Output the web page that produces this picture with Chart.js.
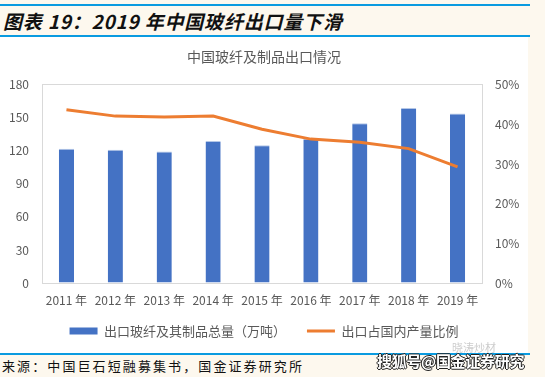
<!DOCTYPE html>
<html>
<head>
<meta charset="utf-8">
<script src="https://cdn.jsdelivr.net/npm/chart.js@4"></script>
<style>
  body { margin: 0; width: 545px; height: 377px; background: #fdf8ee; position: relative; overflow: hidden;
         font-family: "Noto Sans CJK SC", "Noto Sans", sans-serif; }
  .rule { position: absolute; left: 0; width: 530px; background: #0a9be0; }
  #head { position: absolute; left: 3px; top: 7px; font-size: 19px; font-weight: bold; font-style: italic; color: #111; letter-spacing: 0.8px; }
  #box { position: absolute; left: 0; top: 37px; width: 528px; height: 316px; background: #fff; }
  #src { position: absolute; left: 2px; top: 356px; font-size: 13px; letter-spacing: 2.1px; color: #111; }
  #wm { position: absolute; left: 377px; top: 350px; font-size: 15px; font-weight: bold; color: #fff; letter-spacing: -0.3px;
        text-shadow: -1px 0 #222, 1px 0 #222, 0 -1px #222, 0 1px #222; }
  #wm2 { position: absolute; left: 452px; top: 339px; font-size: 11px; color: #ccc; }
</style>
</head>
<body>
<div class="rule" style="top:4px;height:2px"></div>
<div id="head">图表 19：2019 年中国玻纤出口量下滑</div>
<div class="rule" style="top:35px;height:2px"></div>
<div id="box"><canvas id="c" width="528" height="316"></canvas></div>
<div class="rule" style="top:353px;height:2px"></div>
<div id="src">来源：中国巨石短融募集书，国金证券研究所</div>
<div id="wm2">晓涛炒材</div>
<div id="wm">搜狐号@国金证券研究</div>
<script>
// data
var years = ['2011 年', '2012 年', '2013 年', '2014 年', '2015 年', '2016 年', '2017 年', '2018 年', '2019 年'];
var exportVolume = [122, 121, 119.5, 129, 125, 131, 145, 159, 154];   // 万吨
var exportShare = [0.437, 0.421, 0.419, 0.421, 0.388, 0.363, 0.355, 0.339, 0.293];

var grey = '#595959';
var frame = '#d9d9d9';
var tickFont = { family: '"Noto Sans CJK SC", "Noto Sans", sans-serif', size: 12 };

var chart = new Chart('c', {
    data: {
        labels: years,
        datasets: [{
            type: 'line',
            label: '出口占国内产量比例',
            data: exportShare,
            yAxisID: 'y1',
            borderColor: '#ed7d31',
            backgroundColor: '#ed7d31',
            borderWidth: 3,
            pointRadius: 0,
            tension: 0,
            order: 0
        }, {
            type: 'bar',
            label: '出口玻纤及其制品总量（万吨）',
            data: exportVolume,
            yAxisID: 'y',
            backgroundColor: '#4472c4',
            borderColor: '#b4c7e7',
            borderWidth: { top: 1, left: 0, right: 0, bottom: 0 },
            barPercentage: 0.31,
            categoryPercentage: 1,
            order: 1
        }]
    },
    options: {
        responsive: false,
        animation: false,
        layout: { padding: { left: 0, right: 0, top: 0, bottom: 5.5 } },
        plugins: {
            tooltip: { enabled: false },
            title: {
                display: true,
                text: '中国玻纤及制品出口情况',
                color: grey,
                font: { family: tickFont.family, size: 14, weight: 'normal' },
                padding: { top: 11, bottom: 20 }
            },
            legend: {
                position: 'bottom',
                labels: {
                    color: grey,
                    font: { family: tickFont.family, size: 13 },
                    usePointStyle: true,
                    pointStyleWidth: 28,
                    boxHeight: 7,
                    padding: 11.5,
                    generateLabels: function (ch) {
                        var ds = ch.data.datasets;
                        // trailing full-width space widens the gap between the two items
                        return [
                            { text: ds[1].label + '\u3000 ', fillStyle: '#4472c4', strokeStyle: '#4472c4', lineWidth: 0, pointStyle: 'rect', fontColor: grey, datasetIndex: 1 },
                            { text: ds[0].label, fillStyle: '#ed7d31', strokeStyle: '#ed7d31', lineWidth: 3, pointStyle: 'line', fontColor: grey, datasetIndex: 0 }
                        ];
                    }
                }
            }
        },
        scales: {
            x: {
                grid: { display: false, drawTicks: false },
                border: { display: true, color: frame },
                ticks: { color: grey, font: tickFont, padding: 10, maxRotation: 0, autoSkip: false },
                afterFit: function (s) { s.height = 30; }
            },
            y: {
                position: 'left',
                min: 0, max: 180,
                // only the top line is drawn, to close the plot frame
                grid: {
                    drawTicks: false,
                    color: function (c) { return c.tick && c.tick.value === 180 ? frame : 'rgba(0,0,0,0)'; }
                },
                border: { display: true, color: frame },
                ticks: { stepSize: 30, color: grey, font: tickFont, padding: 13 },
                afterFit: function (s) { s.width = 42; }
            },
            y1: {
                position: 'right',
                min: 0, max: 0.5,
                grid: { display: false, drawTicks: false },
                border: { display: true, color: frame },
                ticks: {
                    stepSize: 0.1, color: grey, font: tickFont, padding: 13,
                    callback: function (v) { return Math.round(v * 100) + '%'; }
                },
                afterFit: function (s) { s.width = 46; }
            }
        }
    }
});
</script>
</body>
</html>
